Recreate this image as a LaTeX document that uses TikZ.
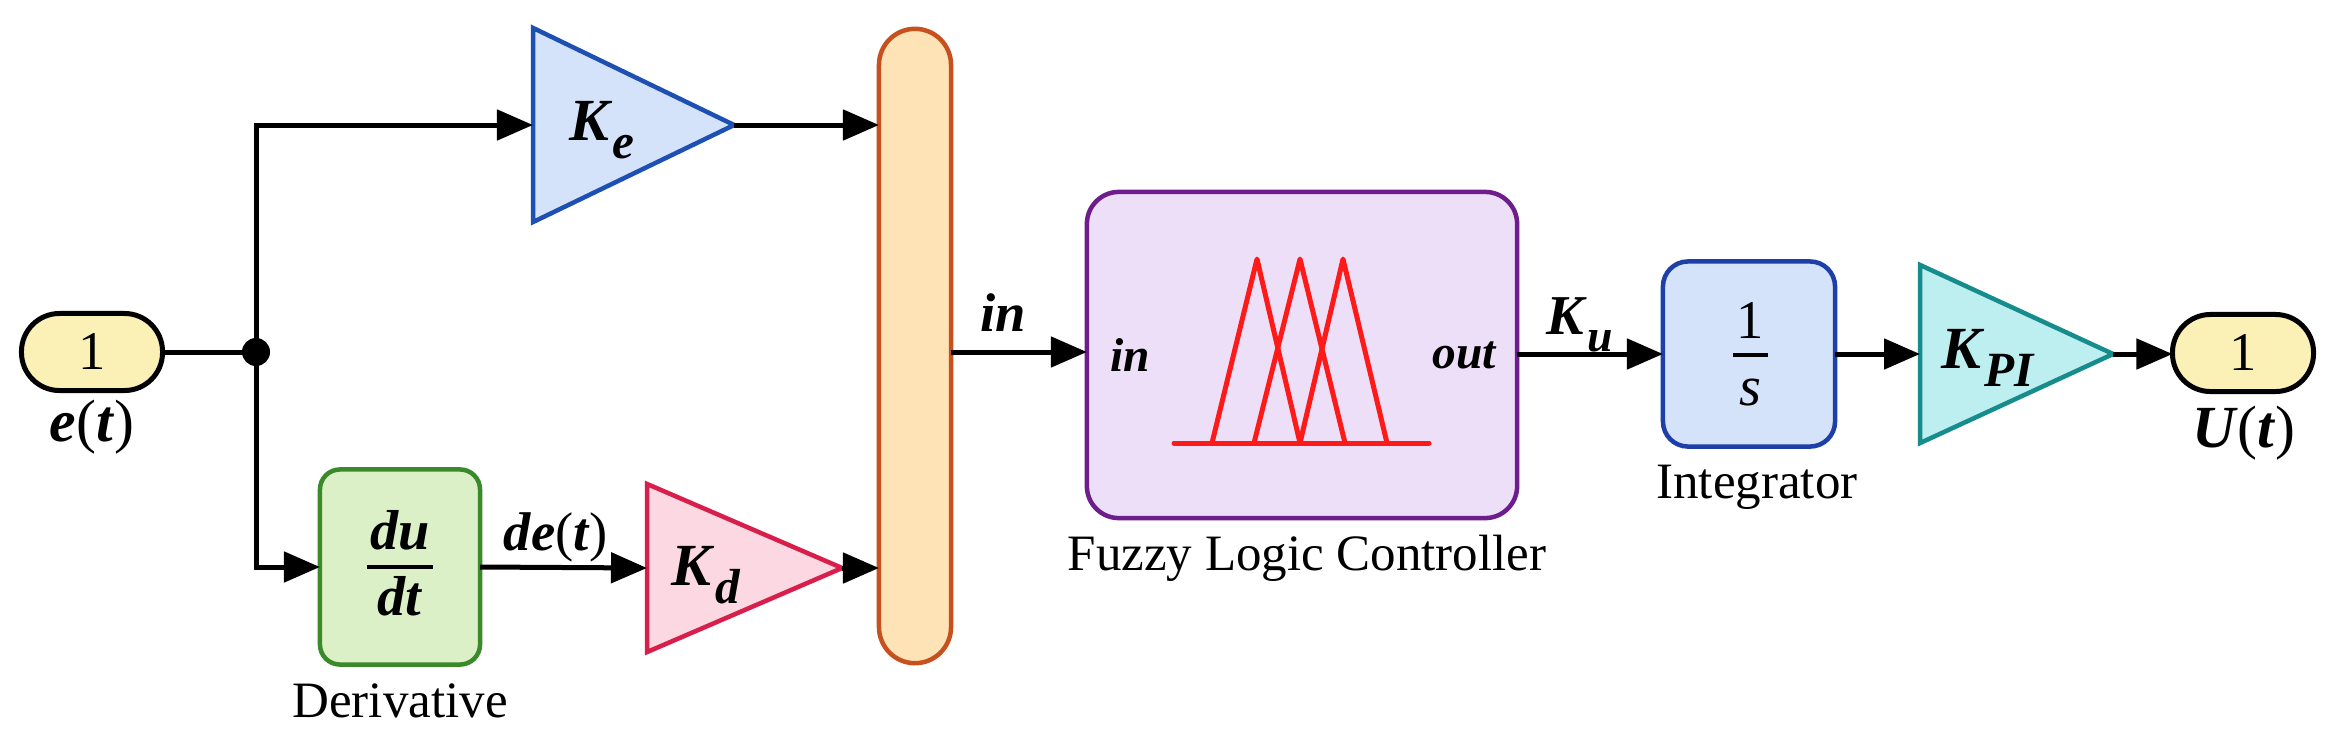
\documentclass[tikz,border=0pt]{standalone}
\usepackage{fontspec}
\setmainfont{Liberation Serif}
\usetikzlibrary{arrows.meta,shapes.geometric}
\newcommand{\bi}[1]{\textbf{\textit{#1}}}
\newcommand{\fs}[1]{\fontsize{#1}{#1}\selectfont}
\definecolor{portfill}{HTML}{FBF0B5}
\definecolor{kefill}{HTML}{D5E3FA}
\definecolor{kedraw}{HTML}{1E50B4}
\definecolor{muxfill}{HTML}{FDE3B5}
\definecolor{muxdraw}{HTML}{C8501E}
\definecolor{derfill}{HTML}{DCF0C8}
\definecolor{derdraw}{HTML}{3A8A2A}
\definecolor{kdfill}{HTML}{FBD8E2}
\definecolor{kddraw}{HTML}{D81E4A}
\definecolor{flcfill}{HTML}{EEDFF8}
\definecolor{flcdraw}{HTML}{6E1E8C}
\definecolor{intfill}{HTML}{D5E3FA}
\definecolor{intdraw}{HTML}{1E3FA8}
\definecolor{kpifill}{HTML}{BDEEF0}
\definecolor{kpidraw}{HTML}{168C8C}
\definecolor{fuzzred}{HTML}{FF1A1A}
\tikzset{
  port/.style={draw=black, fill=portfill, line width=0.05cm, rounded corners=0.38cm,
    minimum width=1.41cm, minimum height=0.77cm, inner sep=0, outer sep=0, font=\fs{15.5}},
  gain/.style={isosceles triangle, isosceles triangle stretches, anchor=west,
    line width=0.045cm, inner sep=0, outer sep=0},
  block/.style={draw, line width=0.045cm, inner sep=0, outer sep=0},
  lbl/.style={inner sep=0, outer sep=0},
  wire/.style={line width=0.05cm},
  arr/.style={line width=0.05cm, -{Triangle[length=0.36cm,width=0.30cm]}},
  fuzz/.style={draw=fuzzred, line width=0.05cm, line join=round, line cap=round},
  caption/.style={inner sep=0, outer sep=0, font=\fs{14.5}}
}
\begin{document}
\begin{tikzpicture}[x=0.01cm, y=-0.01cm]
\useasboundingbox (0,0) rectangle (2336,748);
\fill[white] (0,0) rectangle (2336,748);

% blocks
\node[port] (inp) at (92,352) {1};
\node[lbl] (et) at (92,427) {\fs{17}\bi{e}(\bi{t})};
\node[circle, fill=black, minimum size=0.28cm, inner sep=0, outer sep=0] (junc) at (256,352) {};

\node[gain, draw=kedraw, fill=kefill, minimum width=1.94cm, minimum height=2.01cm] (Ke) at (533,125) {};
\node[lbl] (Kelbl) at (602,130) {\fs{17}\bi{K}\raisebox{-0.3em}{\fs{14}\bi{e}}};

\node[block, draw=muxdraw, fill=muxfill, rounded corners=0.36cm, minimum width=0.72cm, minimum height=6.34cm] (mux) at (915,346) {};

\node[block, draw=derdraw, fill=derfill, rounded corners=0.2cm, minimum width=1.60cm, minimum height=1.95cm] (der) at (400,567) {};
\node[lbl, anchor=base] (du) at (400,549) {\fs{16}\bi{du}};
\draw[line width=0.035cm] (367,567) -- (433,567);
\node[lbl, anchor=base] (dt) at (400,615) {\fs{16}\bi{dt}};
\node[caption] (dercap) at (400,701) {Derivative};

\node[gain, draw=kddraw, fill=kdfill, minimum width=1.68cm, minimum height=1.95cm] (Kd) at (647,568) {};
\node[lbl] (Kdlbl) at (706,575) {\fs{17}\bi{K}\raisebox{-0.3em}{\fs{14}\bi{d}}};
\node[lbl] (detlbl) at (556,537) {\fs{15.5}\bi{de}(\bi{t})};

\node[block, draw=flcdraw, fill=flcfill, rounded corners=0.32cm, minimum width=4.30cm, minimum height=3.26cm] (flc) at (1302,355) {};
\node[lbl] (flcin) at (1130,355) {\fs{13.5}\bi{in}};
\node[lbl] (flcout) at (1465,355) {\fs{13.5}\bi{out}};
\node[caption] (flccap) at (1307,558) {Fuzzy Logic Controller};
\node[lbl] (inlbl) at (1003,313) {\fs{15.5}\bi{in}};
% membership functions
\draw[fuzz] (1174,443) -- (1429,443);
\draw[fuzz] (1212,443) -- (1257,259) -- (1300,443);
\draw[fuzz] (1254,443) -- (1300,259) -- (1345,443);
\draw[fuzz] (1300,443) -- (1343,259) -- (1387,443);

\node[lbl] (Kulbl) at (1580,325) {\fs{16}\bi{K}\raisebox{-0.3em}{\fs{13}\bi{u}}};

\node[block, draw=intdraw, fill=intfill, rounded corners=0.25cm, minimum width=1.72cm, minimum height=1.85cm] (integ) at (1749,354) {};
\node[lbl, anchor=base] (one) at (1750,338) {\fs{15.5}1};
\draw[line width=0.035cm] (1733,355) -- (1768,355);
\node[lbl, anchor=base] (ess) at (1750,405) {\fs{16}\textit{s}};
\node[caption] (intcap) at (1757,487) {Integrator};

\node[gain, draw=kpidraw, fill=kpifill, minimum width=1.78cm, minimum height=1.93cm] (KPI) at (1920,354) {};
\node[lbl] (KPIlbl) at (1988,358) {\fs{17}\bi{K}\raisebox{-0.3em}{\fs{14}\bi{PI}}};

\node[port] (outp) at (2243,353) {1};
\node[lbl] (ut) at (2244,433) {\fs{17}\bi{U}(\bi{t})};

% connectors
\draw[wire] (inp.east) -- (junc.center);
\draw[arr] (junc.center) |- (Ke.west);
\draw[arr] (junc.center) |- (der.west);
\draw[arr] (Ke.east) -- (Ke.east -| mux.west);
\draw[arr] (der.east) -- (Kd.west);
\draw[arr] (Kd.east) -- (Kd.east -| mux.west);
\draw[arr] (mux.east |- inp.east) -- (flc.west |- inp.east);
\draw[arr] (flc.east |- integ.west) -- (integ.west);
\draw[arr] (integ.east) -- (KPI.west);
\draw[arr] (KPI.east) -- (outp.west |- KPI.east);
\end{tikzpicture}
\end{document}
